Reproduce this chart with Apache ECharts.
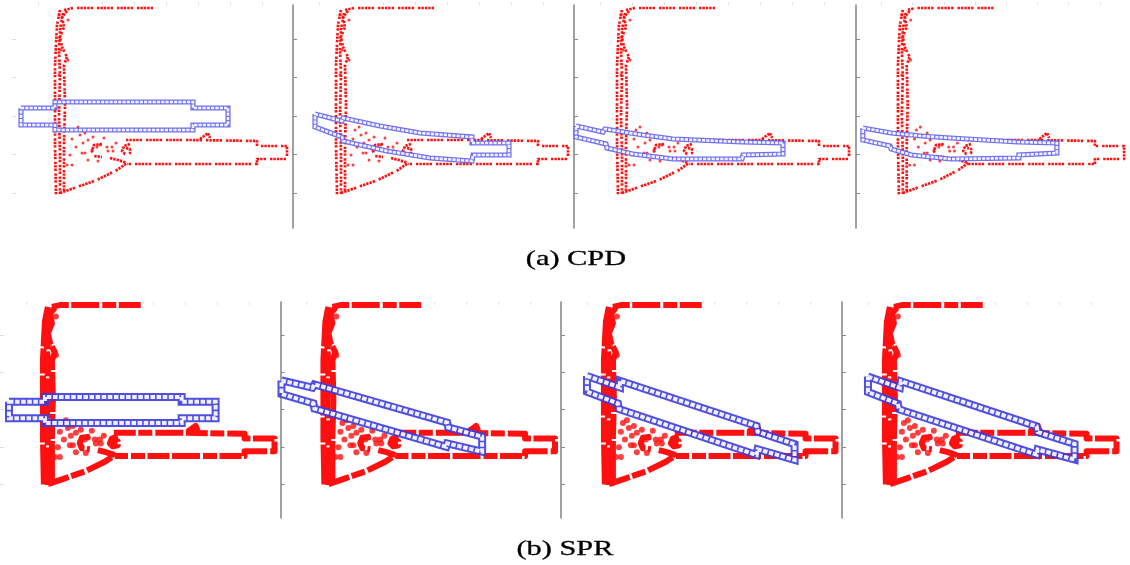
<!DOCTYPE html>
<html><head><meta charset="utf-8">
<script src="https://cdn.jsdelivr.net/npm/echarts@6/dist/echarts.min.js"></script>
<style>html,body{margin:0;padding:0;background:#fff}#c{width:1130px;height:565px}</style>
</head><body><div id="c"></div>
<script>
// ---- data (panel units, y measured downward from panel top) ----
const captions = ['(a) CPD', '(b) SPR'];
const xTicks = [26, 58, 90, 122, 154, 186, 218, 250];
const yTicks = [34, 72.5, 111, 149.5, 188];

// red target point cloud (same in every panel)
const redTop = [[141,3],[100,3],[61,3],[52,5]];
const redBarLeft = [[48,5],[45,20],[44,40],[43,60],[43,100],[43,140],[44,190]];
const redBarMid = [[51,8],[48,25],[47,45],[48,70],[47,110],[48,150],[48,189]];
const redBarRight = [[55,6],[50,12],[52,22],[48,32],[50,42],[55,52],[52,60],[53,100],[52,140],[52,186]];
const redSlant = [[48,188],[65,182],[85,175],[105,165],[115,158]];
const redBody = [[114,135],[180,135],[245,136],[245,141],[275,141],[275,154],[245,154],[245,159],[180,159],[115,159]];
const redInner = [[98,153],[106,155],[115,158]];
const redHook = [[90,139],[82,140],[80,146],[82,151],[90,152]];
const redLoop = [[118,139],[112,141],[110,146],[113,149],[118,148],[118,144],[114,143]];
const redFlag = [[188,134],[196,128],[198,133]];
const redDots = [[68,130],[73,128],[76,135],[81,132],[71,138],[70,148],[73,148],[85,142],[88,140],[80,145],
  [62,125],[66,122],[60,134],[64,142],[58,150],[60,160],[95,142],[100,142],[96,146],[101,146],[76,155],[86,156],
  [47,10],[56,15],[49,45],[56,55],[47,70],[55,160],[92,133],[104,138]];

// blue moving shape, one outline per panel
const blueA1 = [[9,103],[43,103],[43,97],[181,97],[181,103],[216,103],[216,120],[181,120],[181,125],[43,125],[43,120],[9,120],[9,103]];
const blueA2 = [[22,109],[49,116],[50,113],[87,121],[127,128],[179,132],[179,138],[216,138],[216,150],[180,150],[179,156],[137,153],[94,146],[50,136],[49,132],[22,122],[22,109]];
const blueA3 = [[2,121],[29,127],[31,124],[69,130],[99,134],[168,137],[168,139],[209,138],[209,149],[169,150],[168,154],[99,154],[59,149],[33,143],[32,139],[2,132],[2,121]];
const blueA4 = [[7,123],[36,128],[37,127],[67,131],[97,133],[166,137],[167,139],[206,138],[206,148],[167,150],[167,153],[97,154],[57,150],[36,144],[35,141],[7,135],[7,123]];
const blueB1 = [[9,103],[45,103],[45,98],[182,98],[182,103],[216,103],[216,120],[182,120],[182,125],[45,125],[45,120],[9,120],[9,103]];
const blueB2 = [[1,81],[32,88.5],[34,85],[167,124.5],[168,129.5],[202,139],[202,154.5],[167,146],[166,149.5],[34,110],[33,104.7],[1,95],[1,81]];
const blueB3 = [[26,76.4],[59,88.2],[59,81.3],[196,128],[197,134],[234,146.7],[234,163],[197,152],[196,158],[58,110.5],[57,104.7],[26,92.6],[26,76.4]];
const blueB4 = [[26,77],[58,88.5],[59,81.8],[195,128.4],[196,134.3],[233,146.5],[233,162.6],[196,152.3],[195,157.6],[57,110.8],[56,105],[26,93],[26,77]];

const blueSets = [[blueA1, blueA2, blueA3, blueA4], [blueB1, blueB2, blueB3, blueB4]];
const redLines = [redTop, redBarLeft, redBarMid, redBarRight, redSlant, redBody, redInner, redHook, redLoop, redFlag];
const barSet = new Set([redBarLeft, redBarMid, redBarRight]);

// ---- layout ----
const rows = [
  { top: 5, height: 223, lefts: [12, 293, 574, 856], width: 281, xPos: 'bottom',
    red: { w: 2.7, dash: [2.4, 1, 2.4, 1, 2.4, 1, 2.4, 1, 2.4, 4], bar: [2.4, 1, 2.4, 1, 2.4, 2.5] }, dot: 3,
    blue: '#6262f2', bw: 5.2, iw: 2.6, idash: [3.2, 1.1] },
  { top: 302, height: 216, lefts: [0, 280.5, 561, 842], width: 280.5, xPos: 'top',
    red: { w: 6, dash: [22, 2.5, 14, 3, 28, 2.5], bar: [40, 2, 25, 2] }, dot: 6,
    blue: '#3c3cde', bw: 8, iw: 4, idash: [4.5, 1.6] }
];

const grids = [], xAxes = [], yAxes = [], series = [];
rows.forEach((r, ri) => {
  r.lefts.forEach((left, ci) => {
    const gi = grids.length;
    grids.push({ left: left, top: r.top, width: r.width, height: r.height, containLabel: false });
    const faint = ci === 0;
    xAxes.push({ gridIndex: gi, type: 'value', min: 0, max: 281, position: r.xPos,
      axisLine: { show: false }, axisLabel: { show: false }, splitLine: { show: false },
      axisTick: { show: true, inside: true, length: 3, customValues: xTicks, lineStyle: { color: '#e2e2e2' } } });
    yAxes.push({ gridIndex: gi, type: 'value', min: 0, max: 223, inverse: true,
      axisLine: { show: !faint, onZero: false, lineStyle: { color: '#8a8a8a', width: 1.6 } },
      axisLabel: { show: false }, splitLine: { show: false },
      axisTick: { show: true, inside: true, length: 4, customValues: yTicks,
        lineStyle: { color: faint ? '#dcdcdc' : '#8a8a8a', width: 1 } } });
    redLines.forEach(pl => {
      series.push({ type: 'line', xAxisIndex: gi, yAxisIndex: gi, data: pl, symbol: 'none',
        lineStyle: { color: '#ff1010', width: r.red.w, type: barSet.has(pl) ? r.red.bar : r.red.dash, cap: 'butt', join: 'round' },
        z: 2, silent: true });
    });
    series.push({ type: 'scatter', xAxisIndex: gi, yAxisIndex: gi, data: redDots,
      symbolSize: r.dot, itemStyle: { color: '#ff1010' }, z: 2, silent: true });
    const b = blueSets[ri][ci];
    series.push({ type: 'line', xAxisIndex: gi, yAxisIndex: gi, data: b, symbol: 'none',
      lineStyle: { color: r.blue, width: r.bw, join: 'miter', opacity: 0.9 }, z: 3, silent: true });
    series.push({ type: 'line', xAxisIndex: gi, yAxisIndex: gi, data: b, symbol: 'none',
      lineStyle: { color: '#ffffff', width: r.iw, type: r.idash, join: 'miter', opacity: 0.92 }, z: 4, silent: true });
  });
});

const capFont = '22px "Liberation Serif", "DejaVu Serif", serif';
const chart = echarts.init(document.getElementById('c'), null, { renderer: 'canvas' });
chart.setOption({
  animation: false,
  backgroundColor: '#ffffff',
  grid: grids, xAxis: xAxes, yAxis: yAxes, series: series,
  graphic: [
    { type: 'text', x: 576, y: 259, scaleX: 1.38,
      style: { text: captions[0], font: capFont, fill: '#000', stroke: '#000', lineWidth: 0.3, textAlign: 'center', textVerticalAlign: 'middle' } },
    { type: 'text', x: 565, y: 549, scaleX: 1.38,
      style: { text: captions[1], font: capFont, fill: '#000', stroke: '#000', lineWidth: 0.3, textAlign: 'center', textVerticalAlign: 'middle' } }
  ]
});
</script></body></html>
